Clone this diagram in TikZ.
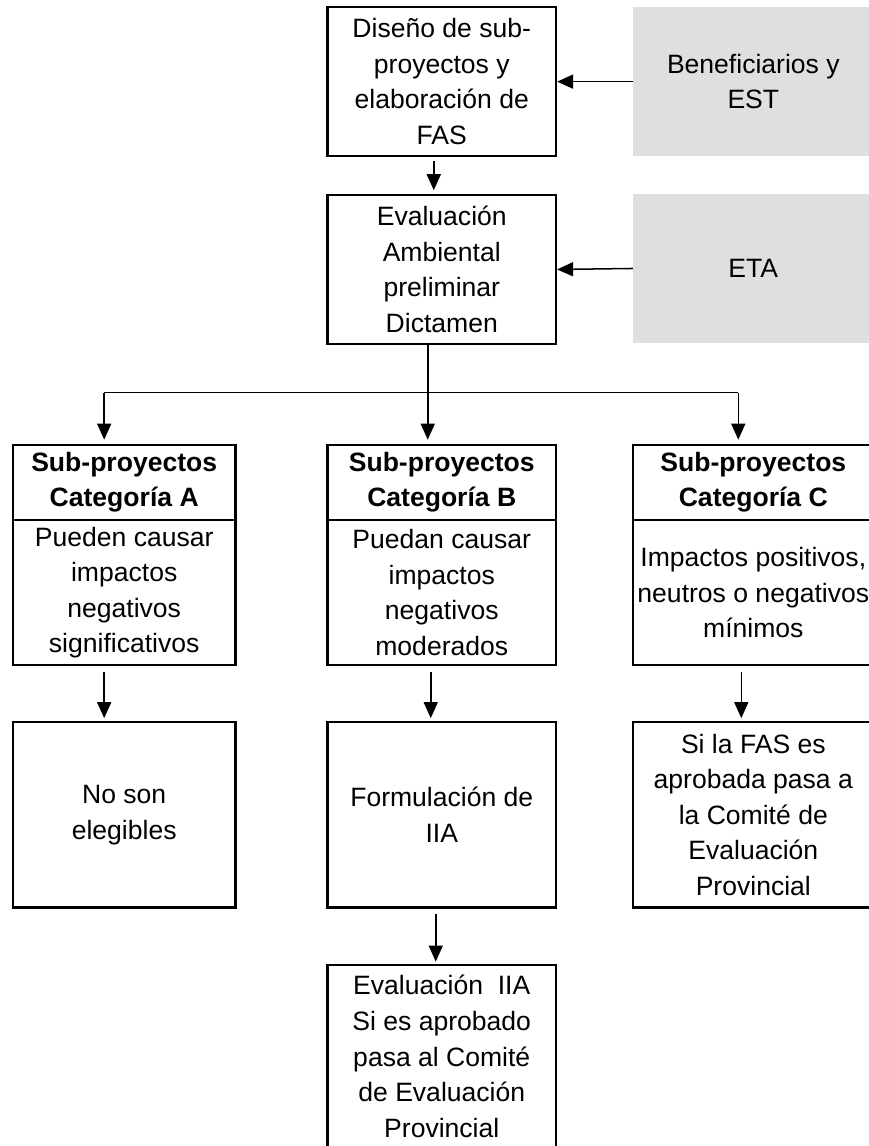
\documentclass[tikz,border=0pt]{standalone}
\usepackage{fontspec}
\setmainfont{Liberation Sans}
\usetikzlibrary{arrows.meta}
\definecolor{greyfill}{HTML}{DFDFDF}

\begin{document}
\begin{tikzpicture}[x=1pt,y=-1pt,
  font=\fontsize{26.5}{35.5}\selectfont,
  box/.style={draw,line width=2.2pt,rectangle,inner sep=0pt,align=center},
  headbox/.style={box,minimum height=75pt,font=\fontsize{26.5}{35.5}\selectfont\bfseries},
  bodybox/.style={box,minimum height=145pt},
  resbox/.style={box,minimum height=185pt},
  greybox/.style={fill=greyfill,rectangle,inner sep=0pt,align=center,minimum width=240pt,minimum height=149pt},
  arr/.style={-{Triangle[length=16pt,width=14pt]},line width=1.5pt}]
\useasboundingbox[fill=white] (0,0) rectangle (867,1144);

% top row
\path (441,81.5) node[box,minimum width=228pt,minimum height=149pt] (nodeDis) {Diseño de sub-\\proyectos y\\elaboración de\\FAS};
\path (752,81.5) node[greybox] (nodeBen) {Beneficiarios y\\EST};
\path (441,269) node[box,minimum width=228pt,minimum height=148pt] (nodeEva) {Evaluación\\Ambiental\\preliminar\\Dictamen};
\path (752,268) node[greybox] (nodeEta) {ETA};
\draw[arr] (nodeBen.west) -- (nodeDis.east);
\draw[arr] (nodeEta.west) -- (nodeEva.east);
\draw[arr,shorten <=4pt,shorten >=4pt] ([xshift=-8pt]nodeDis.south) -- ([xshift=-8pt]nodeEva.north);

% categories
\path (124,481.5) node[headbox,minimum width=222pt] (nodeHeadA) {Sub-proyectos\\Categoría A};
\path (124,591.5) node[bodybox,minimum width=222pt] (nodeBodyA) {Pueden causar\\impactos\\negativos\\significativos};
\path (441,481.5) node[headbox,minimum width=228pt] (nodeHeadB) {Sub-proyectos\\Categoría B};
\path (441,591.5) node[bodybox,minimum width=228pt] (nodeBodyB) {Puedan causar\\impactos\\negativos\\moderados};
\path (752,481.5) node[headbox,minimum width=240pt] (nodeHeadC) {Sub-proyectos\\Categoría C};
\path (752,591.5) node[bodybox,minimum width=240pt] (nodeBodyC) {Impactos positivos,\\neutros o negativos\\mínimos};

\coordinate (forkA) at (104,392);
\coordinate (forkB) at (427,392);
\coordinate (forkC) at (737,392);
\draw[line width=1.5pt] (forkB |- nodeEva.south) -- (forkB);
\draw[line width=1.5pt] (forkA) -- (forkC);
\draw[arr,shorten >=4pt] (forkA) -- (forkA |- nodeHeadA.north);
\draw[arr,shorten >=4pt] (forkB) -- (forkB |- nodeHeadB.north);
\draw[arr,shorten >=4pt] (forkC) -- (forkC |- nodeHeadC.north);

% results
\path (124,813.5) node[resbox,minimum width=222pt] (nodeResA) {No son\\elegibles};
\path (441,813.5) node[resbox,minimum width=228pt] (nodeResB) {Formulación de\\IIA};
\path (752,813.5) node[resbox,minimum width=240pt] (nodeResC) {Si la FAS es\\aprobada pasa a\\la Comité de\\Evaluación\\Provincial};
\draw[arr,shorten <=6pt,shorten >=3pt] (nodeBodyA.south -| forkA) -- (nodeResA.north -| forkA);
\draw[arr,shorten <=6pt,shorten >=3pt] ([xshift=-11pt]nodeBodyB.south) -- ([xshift=-11pt]nodeResB.north);
\draw[arr,shorten <=6pt,shorten >=3pt] ([xshift=-12pt]nodeBodyC.south) -- ([xshift=-12pt]nodeResC.north);

\path (441,1054.5) node[box,minimum width=228pt,minimum height=183pt] (nodeEvi) {Evaluación~~IIA\\Si es aprobado\\pasa al Comité\\de Evaluación\\Provincial};
\draw[arr,shorten <=5pt,shorten >=2pt] ([xshift=-6pt]nodeResB.south) -- ([xshift=-6pt]nodeEvi.north);
\end{tikzpicture}
\end{document}
